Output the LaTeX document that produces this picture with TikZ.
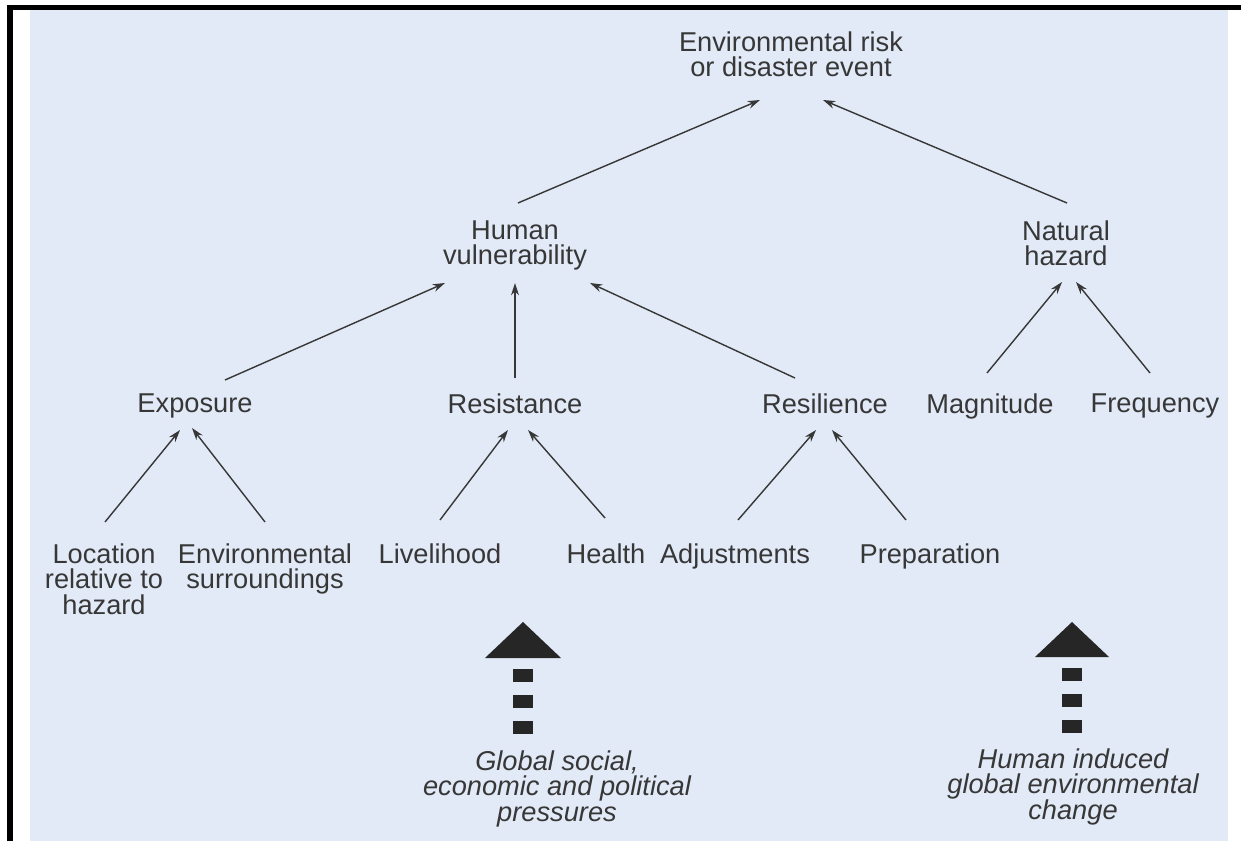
\documentclass[tikz,border=0pt]{standalone}
\usepackage{fontspec}
\setmainfont{Liberation Sans}
\usetikzlibrary{arrows.meta,calc}
\definecolor{scanblue}{RGB}{226,234,247}
\definecolor{inkgray}{RGB}{55,55,55}
\newcommand{\boxFont}[0]{\fontsize{15.5}{14.5}\selectfont}

\begin{document}
\begin{tikzpicture}[x=0.02cm, y=-0.02cm]
  \tikzset{factor/.style={align=center,anchor=north,inner sep=0pt,text=inkgray,font=\boxFont},
    driver/.style={factor,font=\boxFont\itshape},
    link/.style={draw=inkgray,line width=0.8pt,-{Stealth[length=7pt,width=4.5pt]}},
    stem/.style={draw=black!85,line width=0.4cm,dash pattern=on 0.26cm off 0.26cm},
    head/.style={fill=black!85}}
  % scanned page
  \useasboundingbox (0,0) rectangle (1241,841);
  \fill[white] (0,0) rectangle (1241,841);
  \fill[scanblue] (30,10) rectangle (1228,841);
  \fill[black] (7,5) rectangle (1241,10);
  \fill[black] (7,5) rectangle (13,841);

  \node[factor] (risk) at (791,31) {Environmental risk\\or disaster event};
  \node[factor] (human) at (515,220) {Human\\vulnerability};
  \node[factor] (natural) at (1066,220) {Natural\\hazard};
  \node[factor] (exposure) at (195,393) {Exposure};
  \node[factor] (resistance) at (515,393) {Resistance};
  \node[factor] (resilience) at (825,393) {Resilience};
  \node[factor] (magnitude) at (990,393) {Magnitude};
  \node[factor] (frequency) at (1155,393) {Frequency};
  \node[factor] (location) at (104,543) {Location\\relative to\\hazard};
  \node[factor] (surroundings) at (265,543) {Environmental\\surroundings};
  \node[factor] (livelihood) at (440,543) {Livelihood};
  \node[factor] (health) at (606,543) {Health};
  \node[factor] (adjustments) at (735,543) {Adjustments};
  \node[factor] (preparation) at (930,543) {Preparation};
  \node[driver] (pressures) at (557,750) {Global social,\\economic and political\\pressures};
  \node[driver] (change) at (1073,748) {Human induced\\global environmental\\change};

  \draw[link] ($(human.north)+(3,-17)$) -- ($(risk.north)+(-31,69)$);
  \draw[link] ($(natural.north)+(1,-17)$) -- ($(risk.north)+(32,69)$);
  \draw[link] ($(exposure.north)+(30,-13)$) -- ($(human.north)+(-70,63)$);
  \draw[link] ($(resistance.north)+(0,-15)$) -- ($(human.north)+(0,63)$);
  \draw[link] ($(resilience.north)+(-30,-15)$) -- ($(human.north)+(75,63)$);
  \draw[link] ($(magnitude.north)+(-3,-20)$) -- ($(natural.north)+(-4,62)$);
  \draw[link] ($(frequency.north)+(-5,-20)$) -- ($(natural.north)+(10,62)$);
  \draw[link] ($(location.north)+(1,-21)$) -- ($(exposure.north)+(-15,37)$);
  \draw[link] ($(surroundings.north)+(0,-21)$) -- ($(exposure.north)+(-3,35)$);
  \draw[link] ($(livelihood.north)+(0,-23)$) -- ($(resistance.north)+(-7,37)$);
  \draw[link] ($(health.north)+(-1,-25)$) -- ($(resistance.north)+(13,37)$);
  \draw[link] ($(adjustments.north)+(3,-23)$) -- ($(resilience.north)+(-9,37)$);
  \draw[link] ($(preparation.north)+(-24,-23)$) -- ($(resilience.north)+(7,37)$);

  % broad pressures
  \coordinate (pressuretip) at (523,622);
  \fill[head] (pressuretip) -- ++(-38,36) -- ++(76,0) -- cycle;
  \draw[stem] ($(pressuretip)+(0,112)$) -- ($(pressuretip)+(0,47)$);
  \coordinate (changetip) at (1072,622);
  \fill[head] (changetip) -- ++(-37,35) -- ++(74,0) -- cycle;
  \draw[stem] ($(changetip)+(0,111)$) -- ($(changetip)+(0,46)$);
\end{tikzpicture}
\end{document}
